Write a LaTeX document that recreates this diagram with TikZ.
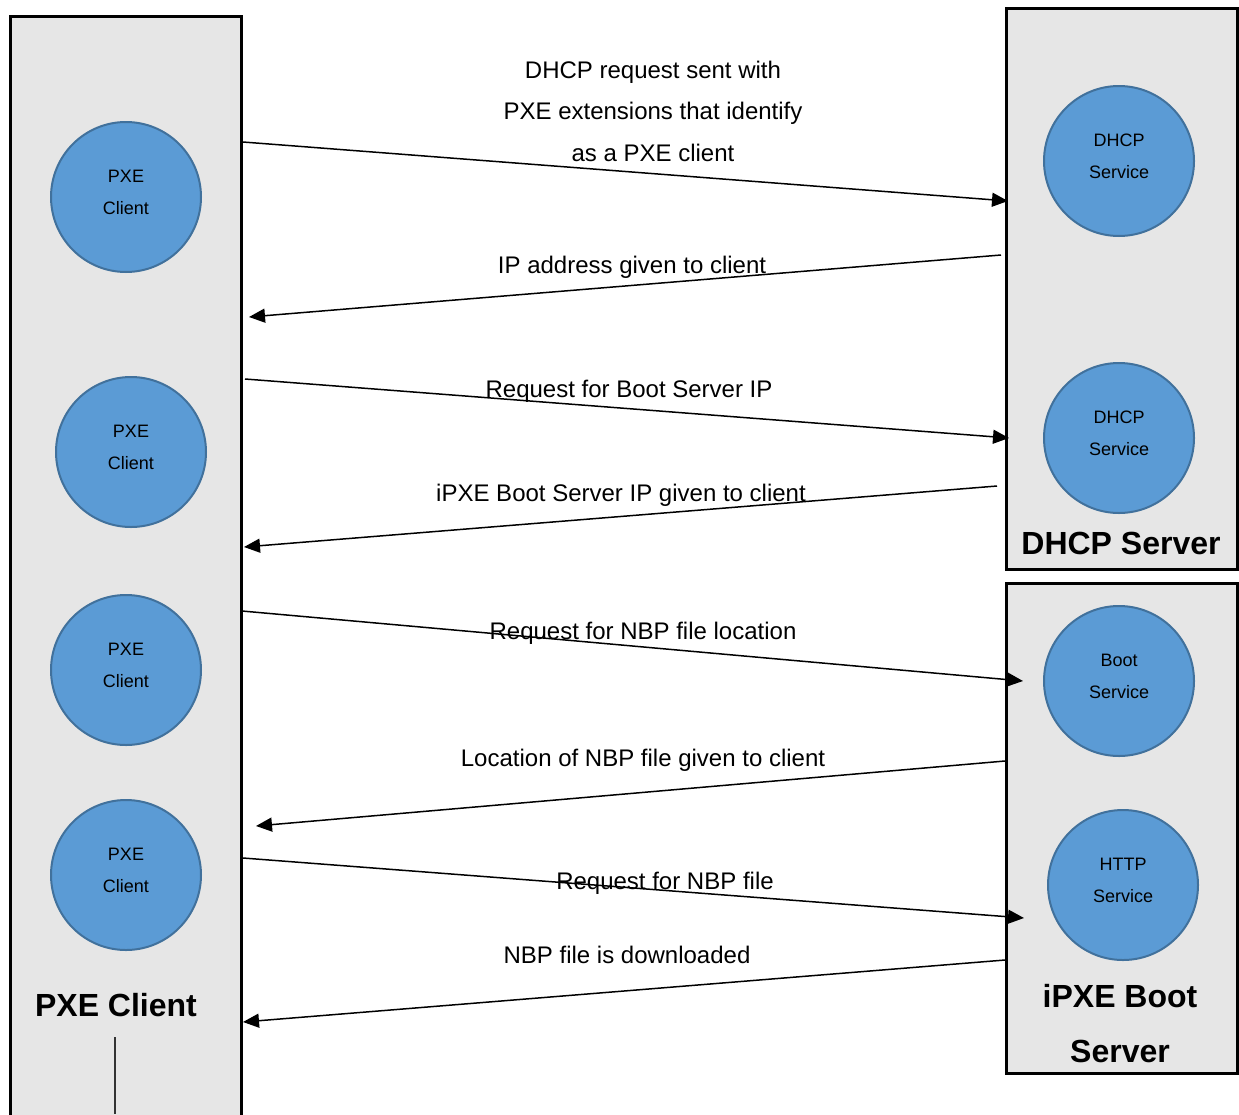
\documentclass[tikz,border=0pt]{standalone}
\usepackage{fontspec}
\setmainfont{Liberation Sans}
\usetikzlibrary{arrows.meta}
\definecolor{panelgray}{HTML}{E6E6E6}
\definecolor{circblue}{HTML}{5B9BD5}
\definecolor{circedge}{HTML}{41719C}
\begin{document}
\begin{tikzpicture}[x=1pt,y=-1pt,
 panel/.style={draw=black, line width=3pt, fill=panelgray},
 svc/.style={circle, fill=circblue, draw=circedge, line width=2pt, minimum size=150pt, inner sep=0pt, align=center, text depth=10pt, font=\fontsize{18}{32}\selectfont},
 lbl/.style={font=\fontsize{24}{41.5}\selectfont, align=center, anchor=base},
 lblc/.style={font=\fontsize{24}{41.5}\selectfont, align=center},
 ttl/.style={font=\fontsize{32}{55}\selectfont\bfseries, align=center},
 msg/.style={line width=1.5pt, -{Triangle[length=16pt,width=14pt]}}]
\useasboundingbox (0,0) rectangle (1239,1114);
\clip (0,0) rectangle (1239,1114);
% panels
\draw[panel] (10,16) rectangle (241,1130);
\draw[panel] (1006,8) rectangle (1237,569);
\draw[panel] (1006,583) rectangle (1237,1073);
% circles
\node[svc] (pxe1) at (126,197) {PXE\\Client};
\node[svc] (pxe2) at (131,452) {PXE\\Client};
\node[svc] (pxe3) at (126,670) {PXE\\Client};
\node[svc] (pxe4) at (126,875) {PXE\\Client};
\node[svc] (dhcp1) at (1119,161) {DHCP\\Service};
\node[svc] (dhcp2) at (1119,438) {DHCP\\Service};
\node[svc] (boot) at (1119,681) {Boot\\Service};
\node[svc] (http) at (1123,885) {HTTP\\Service};
% titles
\node[ttl] (tpxe) at (116,1005) {PXE Client};
\node[ttl] (tdhcp) at (1121,543) {DHCP Server};
\node[ttl] (tipxe) at (1120,1023.5) {iPXE Boot\\Server};
% left stub line
\coordinate (stubA) at (115,1037);
\coordinate (stubB) at (115,1114);
\draw[line width=1.2pt, black!80] (stubA) -- (stubB);
% arrow endpoints
\coordinate (a1s) at (243,142);  \coordinate (a1e) at (1008,201);
\coordinate (a2s) at (1001,255); \coordinate (a2e) at (249,317);
\coordinate (a3s) at (245,379);  \coordinate (a3e) at (1009,438);
\coordinate (a4s) at (997,486);  \coordinate (a4e) at (244,547);
\coordinate (a5s) at (242,611);  \coordinate (a5e) at (1023,681);
\coordinate (a6s) at (1005,761); \coordinate (a6e) at (256,826);
\coordinate (a7s) at (243,858);  \coordinate (a7e) at (1024,918);
\coordinate (a8s) at (1005,960); \coordinate (a8e) at (243,1022);
\draw[msg] (a1s) -- (a1e);
\draw[msg] (a2s) -- (a2e);
\draw[msg] (a3s) -- (a3e);
\draw[msg] (a4s) -- (a4e);
\draw[msg] (a5s) -- (a5e);
\draw[msg] (a6s) -- (a6e);
\draw[msg] (a7s) -- (a7e);
\draw[msg] (a8s) -- (a8e);
% labels
\node[lblc] (l1) at (653,111) {DHCP request sent with\\PXE extensions that identify\\as a PXE client};
\node[lbl] (l2) at (632,273.6) {IP address given to client};
\node[lbl] (l3) at (629,397.6) {Request for Boot Server IP};
\node[lbl] (l4) at (621,501.6) {iPXE Boot Server IP given to client};
\node[lbl] (l5) at (643,639.6) {Request for NBP file location};
\node[lbl] (l6) at (643,766.6) {Location of NBP file given to client};
\node[lbl] (l7) at (665,889.6) {Request for NBP file};
\node[lbl] (l8) at (627,963.6) {NBP file is downloaded};
\end{tikzpicture}
\end{document}
